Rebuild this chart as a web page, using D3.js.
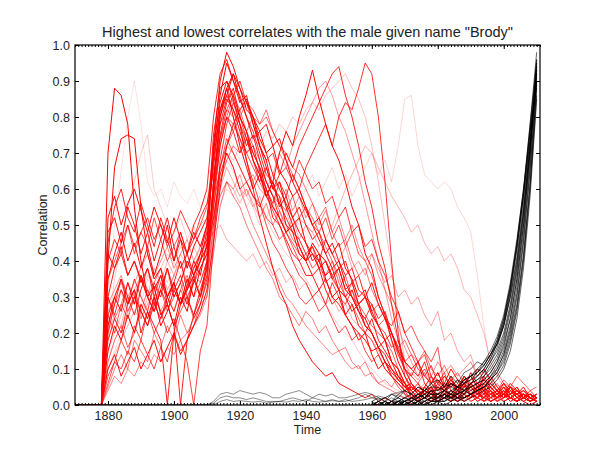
<!DOCTYPE html>
<html><head><meta charset="utf-8">
<script src="https://cdn.jsdelivr.net/npm/d3@7/dist/d3.min.js"></script>
<style>body{margin:0;background:#fff} text{font-family:"Liberation Sans",Arial,Helvetica,sans-serif}</style>
</head><body><svg id="c" width="600" height="450"></svg>
<script>
// ---- data ----
const title = 'Highest and lowest correlates with the male given name "Brody"';
const xLabel = "Time", yLabel = "Correlation";
const xTicks = [1880, 1900, 1920, 1940, 1960, 1980, 2000];
const yTicks = [0, 0.1, 0.2, 0.3, 0.4, 0.5, 0.6, 0.7, 0.8, 0.9, 1.0];
const redStartYear = 1870, blackStartYear = 1960, lowStartYear = 1870, yearStep = 2;

// red: 1870..2010 every 2 years
const red1 = [0,0,0,0,0, .70,.88,.86,.78,.55,.40,.30,.33,.25,.28,.22,.30,.26,.35,.30,.38, .62,.80,.88,.92,.85,.80,.74,.76,.70,.72,.65,.62,.58,.60,.55, .50,.52,.46,.42,.45,.38,.35,.30,.32,.26,.22,.18,.12,.08,.05, .06,.03,.04,.02,.05,.03,.06,.04,.08,.05,.03,.06,.04,.02,.03,.05,.02,.03,.01,.02];
const red2 = [0,0,0,0,0, .40,.66,.74,.75,.74,.55,.42,.35,.38,.30,.34,.28,.33,.40,.36,.45, .70,.86,.95,.90,.84,.86,.78,.72,.66,.60,.62,.55,.50,.52,.45, .40,.42,.35,.30,.32,.25,.22,.18,.20,.14,.10,.12,.08,.06,.04, .05,.03,.02,.04,.01,.03,.02,.01,.03,.02,.04,.01,.02,.03,.01,.02,.01,.03,.02,.01];
const red3 = [0,0,0,0,0, .15,.22,.18,.25,.20,.28,.24,.30,.22,.26,.32,.28,.35,.30,.38,.42, .72,.90,.98,.94,.88,.82,.80,.72,.68,.60,.58,.50,.48,.42,.40, .45,.42,.40,.36,.38,.32,.30,.26,.24,.20,.16,.12,.10,.07,.05, .03,.01,.02,.01,.03,.02,.01,.02,.04,.03,.02,.05,.03,.04,.02,.03,.05,.02,.03,.02];
const red4 = [0,0,0,0,0, .35,.42,.48,.40,.45,.38,.44,.36,.42,.50,.40,.46,.38,.44,.48,.52, .66,.82,.88,.80,.72,.66,.60,.64,.58,.62,.70,.76,.72,.80,.86, .93,.85,.78,.72,.68,.62,.55,.50,.42,.38,.30,.25,.18,.12,.08, .05,.04,.02,.03,.01,.02,.04,.02,.03,.01,.02,.03,.01,.02,.04,.02,.01,.03,.02,.01];
const red5 = [0,0,0,0,0, .20,.28,.35,.30,.25,.32,.38,.30,.36,.28,.34,.40,.32,.38,.42,.46, .58,.72,.80,.76,.70,.74,.68,.62,.66,.60,.64,.70,.66,.72,.76, .80,.84,.88,.92,.94,.86,.80,.72,.62,.55,.45,.38,.28,.18,.10, .06,.04,.03,.05,.02,.03,.01,.04,.02,.03,.02,.01,.03,.02,.04,.02,.01,.02,.03,.01];
const red6 = [0,0,0,0,0, .30,.25,.32,.28,.35,.30,.26,.34,.30,.38,.32,.36,.30,.34,.40,.44, .52,.64,.70,.66,.60,.62,.58,.55,.60,.56,.62,.58,.64,.60,.66, .70,.74,.78,.72,.80,.84,.82,.88,.95,.92,.80,.62,.40,.20,.08, .04,.02,.03,.01,.02,.04,.02,.03,.01,.02,.03,.02,.04,.01,.02,.03,.01,.02,.01,.02];
const red7 = [0,0,0,0,0, .48,.52,.45,.55,.50,.42,.48,.40,.46,.52,.44,.38,.42,.36,.30,.40, .60,.78,.85,.82,.76,.70,.72,.65,.58,.62,.55,.58,.52,.55,.50, .46,.48,.42,.45,.40,.36,.38,.32,.30,.34,.28,.24,.20,.15,.12, .10,.12,.08,.06,.09,.05,.07,.04,.06,.08,.05,.03,.06,.04,.02,.05,.03,.04,.02,.03];
const red8 = [0,0,0,0,0, .08,.12,.10,.15,.12,.18,.14,.10,.16,.12,.20,.15,.18,.22,.28,.35, .55,.72,.80,.78,.74,.68,.62,.56,.50,.45,.42,.38,.35,.30,.28, .30,.26,.28,.24,.20,.22,.18,.20,.15,.12,.14,.10,.08,.06,.04, .01,.03,.02,.04,.03,.05,.02,.03,.06,.04,.05,.03,.04,.02,.03,.05,.04,.02,.03,.02];
const red9 = [0,0,0,0,0, .25,.30,.35,.28,.32,.20,.26,.22,.18,0,.20,.28,.30,.25,.32,.38, .58,.75,.84,.88,.80,.76,.70,.66,.60,.52,.50,.46,.42,.40,.36, .36,.32,.35,.30,.28,.25,.28,.22,.20,.24,.18,.15,.12,.10,.06, .02,.01,.03,.02,.01,.02,.03,.01,.02,.03,.02,.04,.01,.02,.03,.02,.01,.02,.01,.02];
const red10 = [0,0,0,0,0, .30,.38,.42,.36,.40,.35,.30,.26,.32,.28,.22,0,.18,.25,.30,.36, .62,.80,.86,.82,.78,.72,.75,.68,.62,.58,.52,.48,.50,.44,.40, .42,.38,.40,.35,.38,.32,.34,.28,.30,.25,.22,.18,.20,.15,.10, .08,.12,.06,.04,.07,.05,.08,.04,.03,.06,.04,.02,.05,.03,.02,.04,.03,.02,.01,.02];
const red11 = [0,0,0,0,0, .18,.24,.20,.28,.32,.26,.22,.30,.26,.20,.24,.18,.12,0,.15,.22, .45,.68,.78,.84,.80,.74,.68,.64,.58,.54,.50,.45,.40,.36,.34, .30,.32,.28,.34,.30,.28,.32,.26,.24,.28,.22,.20,.16,.18,.12, .14,.10,.08,.11,.06,.08,.05,.07,.04,.06,.03,.05,.02,.04,.03,.02,.04,.02,.01,.03];
const red12 = [0,0,0,0,0, .35,.40,.45,.50,.42,.48,.44,.52,.46,.40,.44,.48,.42,.46,.50,.55, .70,.82,.88,.84,.78,.74,.70,.66,.62,.58,.56,.54,.58,.52,.55, .50,.48,.52,.46,.50,.44,.48,.42,.40,.36,.30,.25,.20,.14,.10, .06,.04,.05,.03,.02,.04,.03,.02,.01,.03,.02,.04,.02,.01,.03,.02,.01,.02,.01,.02];
const red13 = [0,0,0,0,0, .05,.10,.14,.10,.18,.15,.12,.20,.16,.22,.18,.25,.20,.24,.28,.30, .42,.55,.62,.58,.55,.50,.46,.42,.38,.35,.30,.28,.25,.22,.26, .24,.20,.22,.18,.15,.16,.12,.10,.12,.08,.06,.05,.04,.03,.02, .03,.02,.04,.03,.05,.04,.06,.05,.07,.04,.06,.05,.03,.04,.06,.03,.04,.02,.03,.02];
const red14 = [0,0,0,0,0, .42,.38,.44,.36,.40,.34,.38,.32,.36,.30,.34,.28,.32,.36,.40,.48, .75,.88,.90,.85,.78,.68,.60,.52,.45,.38,.32,.28,.22,.18,.15, .12,.10,.08,.09,.06,.05,.04,.03,.02,.03,.01,.02,.01,0,.01, .02,.01,0,.02,.01,.03,.02,.01,.02,.03,.01,.02,.01,.02,.03,.01,.02,.01,0,.01];
const red15 = [0,0,0,0,0, .12,.18,.22,.16,.20,.26,.22,.28,.24,.30,.26,.32,.28,.34,.38,.42, .62,.78,.82,.80,.74,.70,.66,.62,.58,.55,.52,.48,.45,.42,.40, .44,.38,.40,.35,.32,.36,.30,.28,.25,.22,.20,.18,.15,.10,.03, 0,.02,.04,.03,.05,.08,.06,.04,.07,.05,.03,.06,.04,.02,.05,.03,.04,.02,.03,.01];
const red16 = [0,0,0,0,0, .30,.50,.65,.80,.90,.78,.62,.58,.60,.55,.62,.58,.56,.60,.55,.58, .62,.70,.75,.72,.68,.70,.66,.62,.64,.60,.58,.55,.52,.50,.48, .45,.42,.40,.38,.35,.32,.30,.26,.22,.18,.14,.10,.08,.05,.03, .02,.03,.02,.04,.03,.02,.01,.03,.02,.04,.03,.02,.01,.02,.03,.02,.04,.03,.02,.01];
const red17 = [0,0,0,0,0, .10,.15,.20,.25,.30,.28,.35,.32,.38,.34,.40,.36,.42,.38,.44,.46, .50,.56,.60,.58,.62,.55,.58,.52,.56,.50,.54,.58,.52,.56,.60, .64,.58,.62,.66,.60,.64,.58,.62,.66,.70,.64,.68,.62,.72,.85, .86,.72,.64,.62,.60,.62,.60,.55,.52,.48,.36,.22,.10,.05,.03,.04,.02,.03,.01,.02];
const red18 = [0,0,0,0,0, .20,.25,.22,.30,.28,.35,.30,.38,.34,.40,.36,.42,.38,.44,.40,.46, .52,.58,.62,.60,.56,.60,.55,.58,.52,.56,.50,.54,.48,.52,.50, .48,.52,.46,.50,.55,.60,.64,.68,.72,.70,.66,.62,.58,.55,.52, .48,.50,.45,.42,.44,.40,.42,.38,.32,.30,.25,.20,.12,.08,.05,.03,.04,.02,.03,.01];
const red19 = [0,0,0,0,0, .20,.35,.45,.55,.62,.70,.75,.60,.55,.50,.48,.52,.46,.50,.44,.48, .55,.62,.68,.65,.60,.58,.55,.50,.52,.48,.45,.42,.40,.38,.35, .32,.30,.28,.25,.22,.20,.18,.15,.12,.10,.08,.06,.05,.04,.03, .02,.03,.01,.02,.03,.02,.01,.02,.03,.01,.02,.01,.03,.02,.01,.02,.01,.02,.01,.02];
const red20 = [0,0,0,0,0, .10,.14,.18,.22,.26,.24,.30,.28,.34,.30,.36,.34,.40,.38,.42,.45, .48,.50,.46,.44,.42,.40,.42,.38,.40,.36,.38,.34,.36,.32,.34, .30,.32,.28,.30,.26,.28,.24,.22,.20,.18,.15,.12,.10,.08,.06, .05,.04,.06,.03,.05,.04,.02,.03,.05,.04,.02,.03,.04,.02,.03,.01,.02,.03,.02,.01];
const red21 = [0,0,0,0,0, .15,.20,.25,.30,.28,.32,.36,.34,.38,.42,.40,.44,.42,.46,.50,.52, .58,.64,.70,.68,.72,.70,.74,.72,.76,.74,.78,.76,.80,.78,.82, .84,.82,.86,.88,.90,.92,.88,.85,.80,.72,.62,.50,.38,.25,.12, .06,.04,.02,.03,.01,.02,.03,.02,.01,.02,.04,.02,.03,.01,.02,.03,.01,.02,.01,.02];
const red22 = [0,0,0,0,0, .45,.55,.60,.52,.48,.56,.50,.44,.52,.46,.40,.48,.42,.50,.54,.60, .80,.92,.96,.90,.86,.80,.76,.70,.64,.62,.56,.52,.48,.46,.42, .44,.40,.46,.42,.38,.40,.34,.36,.30,.28,.24,.26,.20,.16,.12, .10,.08,.12,.06,.09,.05,.07,.04,.06,.03,.05,.04,.02,.03,.05,.02,.03,.01,.02,.03];
const red23 = [0,0,0,0,0, .25,.20,.28,.24,.30,.26,.22,.28,.32,.26,.30,.34,.28,.36,.40,.44, .55,.66,.72,.76,.80,.84,.82,.78,.80,.76,.72,.68,.64,.60,.55, .52,.48,.44,.40,.36,.30,.28,.24,.20,.18,.14,.10,.08,.05,.03, .02,.04,.03,.05,.02,.04,.03,.06,.04,.05,.03,.02,.04,.03,.05,.02,.03,.04,.02,.01];
const red24 = [0,0,0,0,0, .04,.08,.06,.10,.08,.12,.10,.14,.12,.16,.14,.18,.20,.22,.25,.30, .48,.62,.70,.66,.60,.55,.50,.46,.42,.38,.34,.30,.28,.25,.22, .20,.18,.16,.14,.15,.12,.10,.11,.08,.09,.06,.07,.05,.08,.06, .09,.07,.10,.08,.12,.09,.11,.08,.10,.12,.08,.10,.07,.09,.06,.05,.04,.03,.02,.03];
const red25 = [0,0,0,0,0, .22,.28,.32,.26,.30,.36,.32,.28,.34,.30,.26,.32,.36,.30,.34,.40, .60,.74,.80,.86,.82,.76,.72,.68,.62,.58,.54,.50,.46,.44,.40, .42,.38,.36,.40,.34,.30,.32,.28,.30,.25,.22,.24,.20,.16,.18, .14,.12,.15,.10,.08,.11,.07,.09,.06,.08,.05,.07,.06,.04,.07,.05,.08,.06,.04,.05];
const red26 = [0,0,0,0,0, .28,.32,.36,.30,.34,.38,.42,.36,.40,.44,.38,.42,.46,.40,.44,.48, .56,.66,.72,.70,.66,.62,.64,.60,.58,.62,.56,.60,.54,.58,.52, .56,.50,.54,.48,.52,.46,.50,.44,.40,.42,.36,.32,.28,.22,.16, .12,.08,.10,.06,.04,.05,.03,.04,.02,.03,.01,.02,.03,.02,.01,.02,.03,.01,.02,.01];
const red27 = [0,0,0,0,0, .22,.30,.26,.34,.28,.36,.30,.26,.32,.38,.30,.34,.40,.36,.42,.50, .68,.82,.86,.92,.88,.84,.80,.76,.78,.72,.74,.68,.62,.58,.54, .50,.46,.42,.38,.40,.34,.30,.26,.22,.20,.16,.14,.10,.08,.06, .04,.06,.03,.05,.02,.04,.07,.05,.03,.06,.04,.08,.05,.03,.04,.02,.03,.05,.02,.01];
const red28 = [0,0,0,0,0, .10,.14,.08,.12,.16,.10,.14,.18,.12,.16,.20,.14,.18,.22,.26,.32, .45,.60,.72,.78,.82,.85,.80,.74,.70,.64,.60,.56,.52,.48,.45, .42,.40,.36,.38,.32,.30,.26,.28,.22,.20,.16,.18,.12,.10,.06, .03,.01,.05,.08,.04,.06,.10,.07,.05,.09,.06,.04,.08,.05,.03,.06,.04,.02,.03,.02];
const red29 = [0,0,0,0,0, .40,.46,.42,.50,.44,.48,.52,.46,.50,.44,.48,.54,.50,.46,.52,.56, .64,.74,.82,.86,.90,.84,.78,.72,.68,.70,.64,.66,.62,.68,.64, .60,.62,.56,.58,.52,.55,.48,.50,.44,.46,.40,.36,.30,.26,.20, .16,.12,.14,.08,.06,.09,.04,.03,.06,.02,.05,.03,.06,.04,.02,.05,.03,.02,.04,.02];
const red30 = [0,0,0,0,0, .30,.24,.28,.34,.30,.26,.32,.28,.24,.30,.34,.28,.32,.36,.34,.40, .52,.62,.68,.72,.70,.76,.80,.78,.82,.76,.72,.70,.66,.64,.60, .56,.52,.55,.48,.44,.46,.40,.36,.38,.32,.28,.24,.18,.14,.10, .08,.06,.09,.05,.07,.04,.06,.03,.08,.05,.10,.07,.04,.06,.03,.05,.02,.04,.03,.02];
const red31 = [0,0,0,0,0, .26,.30,.34,.28,.32,.36,.30,.34,.38,.32,.36,.40,.34,.38,.42,.46, .54,.60,.66,.62,.58,.60,.56,.52,.56,.50,.54,.48,.52,.46,.50, .48,.44,.46,.42,.40,.44,.38,.40,.36,.42,.38,.34,.36,.30,.32, .28,.30,.25,.22,.26,.18,.20,.15,.12,.14,.08,.10,.06,.04,.05,.03,.04,.02,.03,.01];
const red32 = [0,0,0,0,0, .52,.58,.50,.56,.60,.54,.48,.55,.50,.45,.52,.46,.42,.48,.44,.50, .72,.84,.90,.86,.80,.76,.68,.64,.60,.55,.52,.48,.50,.44,.40, .36,.38,.32,.28,.30,.25,.22,.20,.18,.15,.16,.12,.09,.07,.05, .04,.02,.05,.03,.06,.04,.02,.05,.08,.06,.04,.07,.05,.03,.06,.04,.02,.03,.02,.01];
const red33 = [0,0,0,0,0, .18,.24,.20,.26,.30,.24,.28,.32,.26,.30,.34,.28,.32,.36,.40,.44, .50,.58,.62,.60,.64,.58,.62,.66,.60,.64,.70,.66,.72,.76,.80, .84,.88,.90,.86,.80,.76,.70,.64,.56,.48,.40,.32,.24,.18,.12, .08,.06,.04,.05,.03,.06,.04,.02,.05,.03,.04,.02,.03,.01,.02,.04,.02,.03,.01,.02];
const red34 = [0,0,0,0,0, .06,.12,.18,.14,.22,.18,.26,.20,.24,.28,.22,.26,.30,.24,.28,.34, .50,.66,.74,.70,.66,.62,.58,.56,.52,.50,.46,.48,.44,.40,.42, .38,.40,.34,.36,.32,.30,.34,.28,.30,.26,.28,.24,.22,.26,.20, .22,.18,.15,.12,.16,.05,.02,.04,.06,.08,.05,.10,.07,.04,.06,.03,.05,.02,.03,.02];

// black: 1960..2010 every 2 years
const black1 = [0,.01,0,.01,.02,.01,.02,.03,.02,.04, .02,.03,.04,.03,.05,.06,.07,.09,.12,.16, .22,.31,.43,.58,.76,.94];
const black2 = [0,0,.01,0,.01,.02,.01,.02,.03,.02, .03,.02,.04,.05,.04,.06,.08,.10,.13,.17, .23,.32,.45,.60,.78,.95];
const black3 = [0,.01,0,0,.01,0,.02,.01,.02,.03, .02,.03,.02,.04,.03,.05,.06,.07,.09,.12, .16,.24,.35,.50,.70,.93];
const black4 = [0,0,0,.01,0,.01,0,.01,.02,.01, .01,.02,.03,.02,.04,.03,.05,.06,.08,.10, .14,.21,.31,.46,.66,.90];
const black5 = [.01,0,.01,0,.01,.02,.03,.02,.04,.05, .05,.04,.06,.05,.07,.08,.10,.12,.15,.19, .25,.34,.46,.60,.76,.90];
const black6 = [0,0,0,0,0,.01,0,.01,0,.01, .02,.01,.03,.02,.03,.04,.05,.06,.08,.11, .15,.22,.33,.48,.68,.96];
const black7 = [0,0,0,0,.01,0,.01,0,.01,.02, .01,.02,.02,.03,.02,.03,.04,.05,.07,.09, .13,.19,.28,.42,.62,.88];
const black8 = [0,.01,.02,.01,.03,.04,.03,.05,.04,.06, .04,.06,.05,.07,.06,.08,.09,.11,.14,.18, .24,.33,.44,.58,.74,.90];
const black9 = [0,0,0,0,0,0,.01,0,.01,0, .01,.01,.02,.01,.02,.03,.04,.05,.07,.10, .14,.20,.30,.45,.65,.91];
const black10 = [0,0,0,.01,0,.01,.02,.01,.02,.03, .03,.04,.03,.05,.06,.07,.09,.11,.14,.18, .24,.33,.45,.59,.76,.96];
const black11 = [0,0,0,0,.01,.01,.02,.02,.03,.04, .04,.05,.06,.05,.07,.08,.09,.12,.14,.17, .22,.30,.41,.56,.74,.93];
const black12 = [0,0,0,0,0,0,0,.01,0,.01, .01,.01,.02,.02,.02,.03,.04,.05,.06,.08, .11,.17,.26,.40,.60,.86];
const black13 = [0,.01,0,.01,.02,.01,.02,.03,.04,.03, .03,.04,.05,.04,.06,.07,.08,.10,.13,.17, .23,.32,.44,.59,.78,.98];
const black14 = [0,0,.01,0,.01,0,.01,.02,.01,.02, .02,.04,.03,.05,.04,.06,.07,.08,.11,.14, .19,.27,.38,.53,.72,.92];
const black15 = [0,0,0,0,0,.01,0,.01,.02,.01, .02,.03,.02,.03,.04,.05,.06,.08,.10,.13, .18,.26,.37,.52,.71,.94];
const black16 = [0,0,0,0,0,0,0,0,.01,0, .01,0,.01,.02,.01,.02,.03,.04,.05,.07, .10,.15,.24,.38,.58,.85];
const black17 = [.01,.02,.01,.03,.02,.04,.03,.05,.04,.06, .07,.05,.08,.06,.09,.10,.12,.11,.14,.17, .22,.30,.40,.54,.72,.90];
const black18 = [0,0,.01,0,0,.01,0,.01,.01,.02, .02,.02,.03,.03,.04,.05,.06,.07,.09,.12, .17,.24,.35,.50,.70,.95];
const black19 = [0,0,0,.01,.01,.02,.01,.03,.02,.04, .03,.04,.06,.05,.07,.08,.10,.09,.12,.15, .20,.28,.39,.54,.72,.92];
const black20 = [0,0,0,0,0,0,.01,0,0,.01, .01,.02,.01,.02,.02,.03,.04,.05,.07,.09, .12,.18,.27,.41,.61,.89];

// faint black: 1870..1970 every 2 years
const lowBlack1 = [0,0,0,0,0,0,0,0,0,0,0,0,0,0,0,0,0,0,0,0,0, .01,.03,.035,.03,.04,.035,.03,.035,.03,.02, .02,.03,.035,.04,.03,.02,.03,.025,.03,.02, .02,.025,.03,.035,.03,.02,.01,.02,.01,.01];
const lowBlack2 = [0,0,0,0,0,0,0,0,0,0,0,0,0,0,0,0,0,0,0,0,0, .005,.02,.025,.02,.02,.015,.02,.015,.01,.01, .01,.015,.02,.015,.01,.02,.015,.01,.015,.01, .01,.015,.02,.03,.02,.015,.02,.03,.025,.02];
const lowBlack3 = [0,0,0,0,0,0,0,0,0,0,0,0,0,0,0,0,0,0,0,0,0, 0,.01,.015,.01,.012,.01,.008,.01,.005,.008, .01,.008,.012,.01,.015,.01,.008,.01,.012,.01, .015,.01,.012,.015,.02,.025,.02,.03,.035,.04];

const redSeries = [red1,red2,red3,red27,red4,red32,red28,red14,red7,red9,red10,red22,red5,red6,red29,red11,red8,red34,red12,red15,red23,red25,red30,red13,red24,red26,red33,red31,red20,red18,red21,red19,red17,red16];
const blackSeries = [black1,black2,black3,black4,black5,black6,black7,black8,black9,black10,black11,black12,black13,black14,black15,black16,black17,black18,black19,black20];
const lowBlackSeries = [lowBlack1,lowBlack2,lowBlack3];

// ---- drawing ----
const svg = d3.select("#c");
const L = 75, R = 540, T = 45, B = 405;
const x = d3.scaleLinear().domain([1870, 2011]).range([L, R]);
const y = d3.scaleLinear().domain([0, 1]).range([B, T]);

svg.append("clipPath").attr("id","clip").append("rect")
  .attr("x", L).attr("y", T).attr("width", R-L).attr("height", B-T);
const plot = svg.append("g").attr("clip-path","url(#clip)");

function lineFor(start){
  return d3.line().x((d,i)=>x(start + i*yearStep)).y(d=>y(d));
}
const nR = redSeries.length;
plot.selectAll("path.red").data(redSeries).join("path").attr("class","red")
  .attr("d", lineFor(redStartYear)).attr("fill","none").attr("stroke","#ff0000")
  .attr("stroke-width",1).attr("stroke-opacity",(d,i)=>1 - 0.88*Math.pow(i/(nR-1),1.6));
plot.selectAll("path.low").data(lowBlackSeries).join("path").attr("class","low")
  .attr("d", lineFor(lowStartYear)).attr("fill","none").attr("stroke","#000")
  .attr("stroke-width",1).attr("stroke-opacity",0.45);
plot.selectAll("path.blk").data(blackSeries).join("path").attr("class","blk")
  .attr("d", lineFor(blackStartYear)).attr("fill","none").attr("stroke","#000")
  .attr("stroke-width",1).attr("stroke-opacity",0.6);

// axes
const fs = "12.5px";
const minorYears = d3.range(1870, 2012);
function styleAxis(g){ g.select(".domain").remove(); g.selectAll("line").attr("stroke","#000"); g.selectAll("text").style("font-size",fs).attr("fill","#222"); }
svg.append("g").attr("transform",`translate(0,${B})`)
  .call(d3.axisBottom(x).tickValues(xTicks).tickSize(-4).tickPadding(6).tickFormat(d3.format("d"))).call(styleAxis);
svg.append("g").attr("transform",`translate(0,${B})`)
  .call(d3.axisBottom(x).tickValues(minorYears).tickSize(-2).tickFormat("")).call(styleAxis);
svg.append("g").attr("transform",`translate(0,${T})`)
  .call(d3.axisTop(x).tickValues(xTicks).tickSize(-4).tickFormat("")).call(styleAxis);
svg.append("g").attr("transform",`translate(0,${T})`)
  .call(d3.axisTop(x).tickValues(minorYears).tickSize(-2).tickFormat("")).call(styleAxis);
svg.append("g").attr("transform",`translate(${L},0)`)
  .call(d3.axisLeft(y).tickValues(yTicks).tickSize(-4).tickPadding(5).tickFormat(d3.format(".1f"))).call(styleAxis);
svg.append("g").attr("transform",`translate(${R},0)`)
  .call(d3.axisRight(y).tickValues(yTicks).tickSize(-4).tickFormat("")).call(styleAxis);

svg.append("rect").attr("x",L).attr("y",T).attr("width",R-L).attr("height",B-T)
  .attr("fill","none").attr("stroke","#000").attr("stroke-width",1.2);

svg.append("text").attr("x",(L+R)/2).attr("y",37).attr("text-anchor","middle")
  .style("font-size","14.5px").attr("fill","#222").text(title);
svg.append("text").attr("x",(L+R)/2).attr("y",434).attr("text-anchor","middle")
  .style("font-size",fs).attr("fill","#222").text(xLabel);
svg.append("text").attr("transform",`translate(47,${(T+B)/2}) rotate(-90)`).attr("text-anchor","middle")
  .style("font-size",fs).attr("fill","#222").text(yLabel);
</script></body></html>
